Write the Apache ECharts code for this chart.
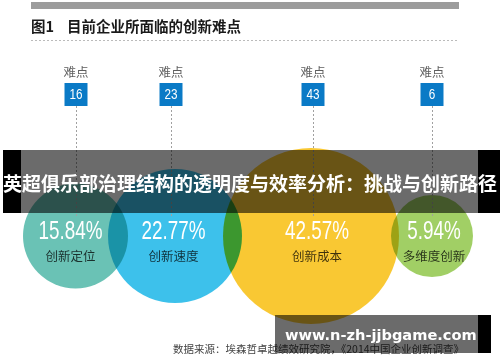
<!DOCTYPE html>
<html><head><meta charset="utf-8">
<script src="https://cdn.jsdelivr.net/npm/echarts@6/dist/echarts.min.js"></script>
<style>html,body{margin:0;padding:0;background:#fff}#c{width:500px;height:362px}</style>
</head><body><div id="c"></div>
<script>
// ---- data ----
const categories = ['创新定位', '创新速度', '创新成本', '多维度创新'];
const shares = [15.84, 22.77, 42.57, 5.94];          // 占比 %
const difficulties = [16, 23, 43, 6];                // 难点数

// ---- layout (pixels of the 500x362 frame) ----
const layout = {
  cx: [75.5, 175, 311, 432],
  cy: 236,
  diam: [105, 134, 176, 82],
  lineX: [76, 171, 313, 432],
  textDx: [-5, -1.5, 6, 2],
  pctDy: -4,
  catDy: 20,
  boxY: 94.5,
  lineEnd: 216
};
const colors = ['#45b3a3', '#0cb2e6', '#f8ba00', '#8ac33e'];
const sans = '"Liberation Sans", Arial, sans-serif';
const cjk = '"Noto Sans CJK SC", sans-serif';

const chart = echarts.init(document.getElementById('c'), null, {renderer: 'canvas'});

const bubbleData = shares.map((v, i) => ({
  value: [layout.cx[i], layout.cy, v],
  symbolSize: layout.diam[i],
  itemStyle: {color: colors[i]}
}));

const labelData = shares.map((v, i) => [layout.cx[i], layout.cy, v]);
const markerData = difficulties.map((d, i) => [layout.lineX[i], layout.boxY, d]);

const option = {
  backgroundColor: '#ffffff',
  animation: false,
  grid: {left: 0, right: 0, top: 0, bottom: 0},
  xAxis: {type: 'value', min: 0, max: 500, show: false},
  yAxis: {type: 'value', min: 0, max: 362, inverse: true, show: false},
  series: [
    {
      type: 'scatter',
      name: 'bubbles',
      blendMode: 'multiply',
      symbol: 'circle',
      data: bubbleData,
      emphasis: {disabled: true},
      z: 2
    },
    {
      type: 'custom',
      name: 'labels',
      z: 3,
      data: labelData,
      renderItem: (params, api) => {
        const i = params.dataIndex;
        const c = api.coord([api.value(0), api.value(1)]);
        const tx = c[0] + layout.textDx[i];
        return {
          type: 'group',
          children: [
            {type: 'text', x: tx, y: c[1] + layout.pctDy, scaleX: 0.755,
             style: {text: api.value(2).toFixed(2) + '%', x: 0, y: 0, align: 'center', verticalAlign: 'middle',
               fill: '#ffffff', fontSize: 25, fontFamily: sans}},
            {type: 'text', x: tx, y: c[1] + layout.catDy,
             style: {text: categories[i], x: 0, y: 0, align: 'center', verticalAlign: 'middle',
               fill: 'rgba(0,0,0,0.75)', fontSize: 12.5, fontFamily: cjk}}
          ]
        };
      }
    },
    {
      type: 'custom',
      name: 'markers',
      z: 4,
      data: markerData,
      renderItem: (params, api) => {
        const x = api.value(0);
        const box = api.coord([x, api.value(1)]);
        const end = api.coord([x, layout.lineEnd]);
        const px = Math.round(box[0]) + 0.5;
        return {
          type: 'group',
          children: [
            {type: 'line', shape: {x1: px, y1: box[1] + 11.5, x2: px, y2: end[1]},
             style: {stroke: '#a0a0a0', lineWidth: 1, lineDash: [2, 2]}},
            {type: 'rect', shape: {x: box[0] - 11.5, y: box[1] - 11.5, width: 23, height: 23},
             style: {fill: '#0a7ac6'}},
            {type: 'text', x: box[0], y: box[1] + 0.5, scaleX: 0.78,
             style: {text: String(api.value(2)), x: 0, y: 0,
              align: 'center', verticalAlign: 'middle', fill: '#ffffff', fontSize: 15, fontFamily: sans}},
            {type: 'text', style: {text: '难点', x: box[0], y: box[1] - 22.5,
              align: 'center', verticalAlign: 'middle', fill: '#5e5e5e', fontSize: 12.5, fontFamily: cjk}}
          ]
        };
      }
    }
  ],
  graphic: [
    {type: 'rect', z: 100, shape: {x: 31, y: 2, width: 428, height: 7}, style: {fill: '#9c9c9c'}},
    {type: 'text', z: 100, style: {text: '图1', x: 31, y: 26.5, verticalAlign: 'middle', fill: '#1a1a1a',
      fontSize: 14.5, fontWeight: 'bold', fontFamily: cjk}},
    {type: 'text', z: 100, style: {text: '目前企业所面临的创新难点', x: 67, y: 26.5, verticalAlign: 'middle', fill: '#1a1a1a',
      fontSize: 14.5, fontWeight: 'bold', fontFamily: cjk}},
    {type: 'line', z: 100, shape: {x1: 31, y1: 40.5, x2: 459, y2: 40.5}, style: {stroke: '#bbbbbb', lineWidth: 1, lineDash: [2, 2]}},
    // overlay banner
    {type: 'rect', z: 100, shape: {x: 21, y: 150, width: 457, height: 63}, style: {fill: 'rgba(0,0,0,0.58)'}},
    {type: 'rect', z: 100, shape: {x: 3, y: 150, width: 18, height: 63}, style: {fill: '#000000'}},
    {type: 'rect', z: 100, shape: {x: 478, y: 150, width: 22, height: 63}, style: {fill: '#000000'}},
    {type: 'text', z: 101, style: {text: '英超俱乐部治理结构的透明度与效率分析：挑战与创新路径', x: 250, y: 184,
      align: 'center', verticalAlign: 'middle', fill: '#ffffff', fontSize: 19, fontWeight: 'bold', fontFamily: cjk}},
    // source
    {type: 'text', z: 100, style: {text: '数据来源：埃森哲卓越绩效研究院，《2014中国企业创新调查》', x: 173, y: 349,
      verticalAlign: 'middle', fill: '#444444', fontSize: 10.5, fontFamily: cjk}},
    // watermark
    {type: 'rect', z: 102, shape: {x: 275, y: 315, width: 203, height: 38}, style: {fill: 'rgba(0,0,0,0.58)'}},
    {type: 'rect', z: 102, shape: {x: 478, y: 315, width: 13, height: 38}, style: {fill: '#000000'}},
    {type: 'text', z: 103, style: {text: 'www.n-zh-jjbgame.com', x: 285, y: 336, verticalAlign: 'middle',
      fill: '#ffffff', fontSize: 14.6, fontWeight: 'bold', fontFamily: '"DejaVu Sans", sans-serif'}}
  ]
};
chart.setOption(option);
</script>
</body></html>
